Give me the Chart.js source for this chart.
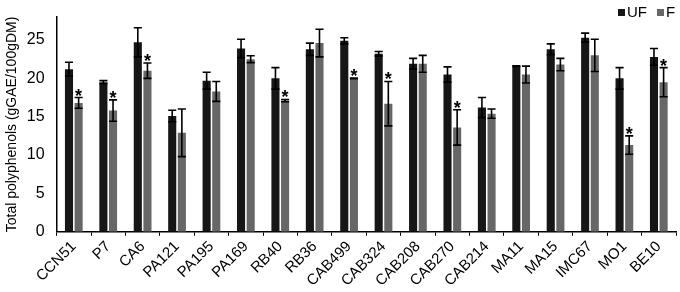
<!DOCTYPE html>
<html>
<head>
<meta charset="utf-8">
<script src="https://cdn.jsdelivr.net/npm/chart.js"></script>
<style>
  html, body { margin: 0; padding: 0; background: #fff; }
  #wrap { width: 680px; height: 292px; }
</style>
</head>
<body>
<div id="wrap"><canvas id="myChart"></canvas></div>
<script>
const categories = ['CCN51', 'P7', 'CA6', 'PA121', 'PA195', 'PA169', 'RB40', 'RB36', 'CAB499',
  'CAB324', 'CAB208', 'CAB270', 'CAB214', 'MA11', 'MA15', 'IMC67', 'MO1', 'BE10'];
const ufValues = [21.2, 19.5, 24.7, 15.1, 19.7, 23.9, 20.0, 23.8, 24.9, 23.2, 21.9, 20.5, 16.2, 21.6, 23.8, 25.3, 20.0, 22.8];
const ufErrors = [0.9, 0.2, 1.9, 0.75, 1.1, 1.2, 1.4, 0.8, 0.4, 0.3, 0.7, 1.0, 1.3, 0.05, 0.7, 0.6, 1.4, 1.1];
const fValues = [16.8, 15.8, 21.0, 12.9, 18.3, 22.5, 17.1, 24.6, 20.0, 16.7, 21.9, 13.6, 15.4, 20.5, 21.8, 23.0, 11.3, 19.5];
const fErrors = [0.7, 1.4, 1.0, 3.1, 1.3, 0.45, 0.15, 1.8, 0.05, 2.9, 1.1, 2.3, 0.6, 1.1, 0.8, 2.1, 1.2, 1.9];
const significant = [true, true, true, false, false, false, true, false, true, true, false, true, false, false, false, false, true, true];
const yTicks = [0, 5, 10, 15, 20, 25];

// error bars + asterisks, positioned through the chart scales
const errorBars = {
  id: 'errorBars',
  afterDatasetsDraw(chart) {
    const ctx = chart.ctx;
    const y = chart.scales.y;
    const errs = [ufErrors, fErrors];
    ctx.save();
    ctx.strokeStyle = '#000';
    ctx.lineWidth = 1.6;
    errs.forEach((err, di) => {
      const meta = chart.getDatasetMeta(di);
      meta.data.forEach((bar, j) => {
        const v = chart.data.datasets[di].data[j];
        const top = y.getPixelForValue(v + err[j]);
        const bot = y.getPixelForValue(v - err[j]);
        const half = bar.width / 2;
        ctx.beginPath();
        ctx.moveTo(bar.x, top); ctx.lineTo(bar.x, bot);
        ctx.moveTo(bar.x - half, top); ctx.lineTo(bar.x + half, top);
        ctx.moveTo(bar.x - half, bot); ctx.lineTo(bar.x + half, bot);
        ctx.stroke();
        if (di === 1 && significant[j]) {
          ctx.fillStyle = '#000';
          ctx.font = 'bold 18px "Liberation Sans", Arial';
          ctx.textAlign = 'center';
          ctx.textBaseline = 'alphabetic';
          ctx.fillText('*', bar.x, top + 4);
        }
      });
    });
    ctx.restore();
  }
};

// small legend in the top right corner (square tight against its label)
const legendX = [618, 657];
const cornerLegend = {
  id: 'cornerLegend',
  afterDraw(chart) {
    const ctx = chart.ctx;
    ctx.save();
    ctx.font = '15px "Liberation Sans", Arial';
    ctx.textBaseline = 'middle';
    ctx.textAlign = 'left';
    chart.data.datasets.forEach((ds, i) => {
      const x = legendX[i];
      ctx.fillStyle = ds.backgroundColor;
      ctx.fillRect(x, 9, 7, 7);
      ctx.fillStyle = '#000';
      ctx.fillText(ds.label, x + 9, 13);
    });
    ctx.restore();
  }
};

const ctx1 = document.getElementById('myChart').getContext('2d');
const myChart = new Chart(ctx1, {
  type: 'bar',
  data: {
    labels: categories,
    datasets: [
      { label: 'UF', data: ufValues, backgroundColor: '#161616', categoryPercentage: 0.56, barPercentage: 0.84 },
      { label: 'F', data: fValues, backgroundColor: '#676767', categoryPercentage: 0.56, barPercentage: 0.84 }
    ]
  },
  options: {
    responsive: true,
    maintainAspectRatio: false,
    animation: false,
    layout: { padding: { top: 17, right: 4, left: 2, bottom: 0 } },
    plugins: {
      legend: { display: false },
      tooltip: { enabled: false }
    },
    scales: {
      x: {
        grid: { display: true, drawOnChartArea: false, color: '#000', tickLength: 4, tickColor: '#000' },
        border: { color: '#000', width: 1.5 },
        ticks: {
          color: '#000', minRotation: 45, maxRotation: 45, padding: 2,
          font: { family: '"Liberation Sans", Arial', size: 15 }
        }
      },
      y: {
        min: 0,
        max: 28,
        afterBuildTicks: (axis) => { axis.ticks = yTicks.map(v => ({ value: v })); },
        grid: { display: false },
        border: { color: '#000', width: 1.5 },
        ticks: { color: '#000', padding: 4, font: { family: '"Liberation Sans", Arial', size: 16 } },
        title: {
          display: true,
          text: 'Total polyphenols (gGAE/100gDM)',
          color: '#000',
          padding: 2,
          font: { family: '"Liberation Sans", Arial', size: 14 }
        }
      }
    }
  },
  plugins: [errorBars, cornerLegend]
});
</script>
</body>
</html>
